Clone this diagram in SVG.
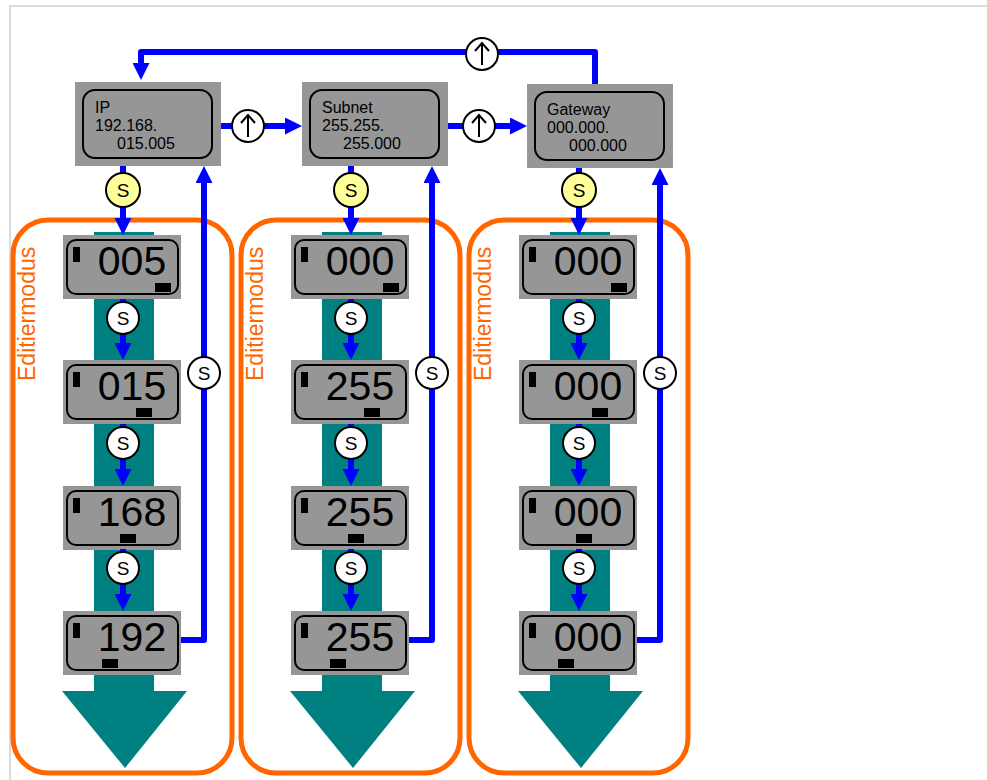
<svg xmlns="http://www.w3.org/2000/svg" width="987" height="780" viewBox="0 0 987 780">
<style>
.frame{fill:none;stroke:#d0d0d0;stroke-width:1.5}
.mode{fill:none;stroke:#ff6600;stroke-width:5}
.modelbl{fill:#ff6600;font-family:"Liberation Sans",Arial,sans-serif;font-size:23px}
.teal{fill:#008080}
.gbox{fill:#969696}
.inner{fill:#969696;stroke:#000;stroke-width:2}
.ttxt{fill:#000;font-family:"Liberation Sans",Arial,sans-serif;font-size:16px}
.num{fill:#000;font-family:"Liberation Sans",Arial,sans-serif;font-size:41px;text-anchor:middle}
.bar{fill:#000}
.wire{fill:none;stroke:#0000ff;stroke-width:6;stroke-linejoin:round}
.cw{fill:#fff;stroke:#000;stroke-width:2}
.cy{fill:#ffff99;stroke:#000;stroke-width:2}
.stxt{fill:#000;font-family:"Liberation Sans",Arial,sans-serif;font-size:19px;text-anchor:middle}
.up{fill:none;stroke:#000;stroke-width:2}
</style>
<defs>
<marker id="ah" viewBox="0 0 10 10" refX="0" refY="5" markerWidth="17" markerHeight="17" markerUnits="userSpaceOnUse" orient="auto">
<path d="M0,0 L10,5 L0,10 z" fill="#0000ff"/>
</marker>
<g id="disp">
<rect class="gbox" x="0" y="0" width="118" height="64"/>
<rect class="inner" x="4" y="5" width="111" height="54" rx="9"/>
<rect class="bar" x="10" y="12" width="7" height="15"/>
</g>
<g id="upc">
<circle class="cw" cx="0" cy="0" r="16"/>
<path class="up" d="M0,11 V-11 M-7,-3 L0,-11 L7,-3"/>
</g>
</defs>
<path class="frame" d="M10,780 V6 H987"/>

<g id="mode1"><rect class="mode" x="13" y="220" width="219" height="553" rx="35"/><text class="modelbl" transform="translate(35,381) rotate(-90)">Editiermodus</text></g>
<g id="mode2"><rect class="mode" x="241" y="220" width="219" height="553" rx="35"/><text class="modelbl" transform="translate(263,381) rotate(-90)">Editiermodus</text></g>
<g id="mode3"><rect class="mode" x="469" y="220" width="219" height="553" rx="35"/><text class="modelbl" transform="translate(491,381) rotate(-90)">Editiermodus</text></g>

<g id="flow1"><rect class="teal" x="94" y="232" width="60" height="460"/><polygon class="teal" points="62,691 187,691 125,768"/></g>
<g id="flow2"><rect class="teal" x="322" y="232" width="60" height="460"/><polygon class="teal" points="290,691 415,691 353,768"/></g>
<g id="flow3"><rect class="teal" x="550" y="232" width="60" height="460"/><polygon class="teal" points="518,691 643,691 581,768"/></g>

<g id="ip">
<rect class="gbox" x="75" y="82" width="146" height="84"/>
<rect class="inner" x="83" y="90" width="129" height="68" rx="12"/>
<text class="ttxt" x="95" y="113">IP</text>
<text class="ttxt" x="95" y="131">192.168.</text>
<text class="ttxt" x="117" y="149">015.005</text>
</g>
<g id="subnet">
<rect class="gbox" x="302" y="82" width="146" height="84"/>
<rect class="inner" x="310" y="90" width="129" height="68" rx="12"/>
<text class="ttxt" x="322" y="113">Subnet</text>
<text class="ttxt" x="322" y="131">255.255.</text>
<text class="ttxt" x="343" y="149">255.000</text>
</g>
<g id="gateway">
<rect class="gbox" x="527" y="84" width="146" height="84"/>
<rect class="inner" x="535" y="92" width="129" height="68" rx="12"/>
<text class="ttxt" x="547" y="115">Gateway</text>
<text class="ttxt" x="547" y="133">000.000.</text>
<text class="ttxt" x="569" y="151">000.000</text>
</g>

<g id="ip1"><use href="#disp" x="63" y="235"/><rect class="bar" x="155" y="283" width="16" height="9"/><text class="num" x="132" y="275">005</text></g>
<g id="ip2"><use href="#disp" x="63" y="360"/><rect class="bar" x="136" y="408" width="16" height="9"/><text class="num" x="132" y="400">015</text></g>
<g id="ip3"><use href="#disp" x="63" y="486"/><rect class="bar" x="120" y="534" width="16" height="9"/><text class="num" x="132" y="526">168</text></g>
<g id="ip4"><use href="#disp" x="63" y="611"/><rect class="bar" x="102" y="659" width="16" height="9"/><text class="num" x="132" y="651">192</text></g>

<g id="sn1"><use href="#disp" x="291" y="235"/><rect class="bar" x="383" y="283" width="16" height="9"/><text class="num" x="360" y="275">000</text></g>
<g id="sn2"><use href="#disp" x="291" y="360"/><rect class="bar" x="364" y="408" width="16" height="9"/><text class="num" x="360" y="400">255</text></g>
<g id="sn3"><use href="#disp" x="291" y="486"/><rect class="bar" x="348" y="534" width="16" height="9"/><text class="num" x="360" y="526">255</text></g>
<g id="sn4"><use href="#disp" x="291" y="611"/><rect class="bar" x="330" y="659" width="16" height="9"/><text class="num" x="360" y="651">255</text></g>

<g id="gw1"><use href="#disp" x="519" y="235"/><rect class="bar" x="611" y="283" width="16" height="9"/><text class="num" x="588" y="275">000</text></g>
<g id="gw2"><use href="#disp" x="519" y="360"/><rect class="bar" x="592" y="408" width="16" height="9"/><text class="num" x="588" y="400">000</text></g>
<g id="gw3"><use href="#disp" x="519" y="486"/><rect class="bar" x="576" y="534" width="16" height="9"/><text class="num" x="588" y="526">000</text></g>
<g id="gw4"><use href="#disp" x="519" y="611"/><rect class="bar" x="558" y="659" width="16" height="9"/><text class="num" x="588" y="651">000</text></g>

<g id="connectors">
<path class="wire" d="M221,126 H285" marker-end="url(#ah)"/>
<path class="wire" d="M448,126 H510" marker-end="url(#ah)"/>
<path class="wire" d="M595,84 V52 H141 V63" marker-end="url(#ah)"/>
<use href="#upc" x="248" y="126"/>
<use href="#upc" x="479" y="126"/>
<use href="#upc" x="482" y="54"/>

<path class="wire" d="M123,166 V218" marker-end="url(#ah)"/>
<path class="wire" d="M123,299 V343" marker-end="url(#ah)"/>
<path class="wire" d="M123,424 V469" marker-end="url(#ah)"/>
<path class="wire" d="M123,549 V594" marker-end="url(#ah)"/>
<path class="wire" d="M181,640 H204 V183" marker-end="url(#ah)"/>

<path class="wire" d="M351,166 V218" marker-end="url(#ah)"/>
<path class="wire" d="M351,299 V343" marker-end="url(#ah)"/>
<path class="wire" d="M351,424 V469" marker-end="url(#ah)"/>
<path class="wire" d="M351,549 V594" marker-end="url(#ah)"/>
<path class="wire" d="M409,640 H432 V183" marker-end="url(#ah)"/>

<path class="wire" d="M579,168 V218" marker-end="url(#ah)"/>
<path class="wire" d="M579,299 V343" marker-end="url(#ah)"/>
<path class="wire" d="M579,424 V469" marker-end="url(#ah)"/>
<path class="wire" d="M579,549 V594" marker-end="url(#ah)"/>
<path class="wire" d="M637,640 H660 V185" marker-end="url(#ah)"/>

<circle class="cy" cx="123" cy="190" r="17"/><text class="stxt" x="123" y="197">S</text>
<circle class="cy" cx="351" cy="190" r="17"/><text class="stxt" x="351" y="197">S</text>
<circle class="cy" cx="579" cy="190" r="17"/><text class="stxt" x="579" y="197">S</text>

<circle class="cw" cx="123" cy="318" r="16"/><text class="stxt" x="123" y="325">S</text>
<circle class="cw" cx="123" cy="443" r="16"/><text class="stxt" x="123" y="450">S</text>
<circle class="cw" cx="123" cy="568" r="16"/><text class="stxt" x="123" y="575">S</text>
<circle class="cw" cx="204" cy="373" r="16"/><text class="stxt" x="204" y="380">S</text>

<circle class="cw" cx="351" cy="318" r="16"/><text class="stxt" x="351" y="325">S</text>
<circle class="cw" cx="351" cy="443" r="16"/><text class="stxt" x="351" y="450">S</text>
<circle class="cw" cx="351" cy="568" r="16"/><text class="stxt" x="351" y="575">S</text>
<circle class="cw" cx="432" cy="373" r="16"/><text class="stxt" x="432" y="380">S</text>

<circle class="cw" cx="579" cy="318" r="16"/><text class="stxt" x="579" y="325">S</text>
<circle class="cw" cx="579" cy="443" r="16"/><text class="stxt" x="579" y="450">S</text>
<circle class="cw" cx="579" cy="568" r="16"/><text class="stxt" x="579" y="575">S</text>
<circle class="cw" cx="660" cy="373" r="16"/><text class="stxt" x="660" y="380">S</text>
</g>
</svg>
